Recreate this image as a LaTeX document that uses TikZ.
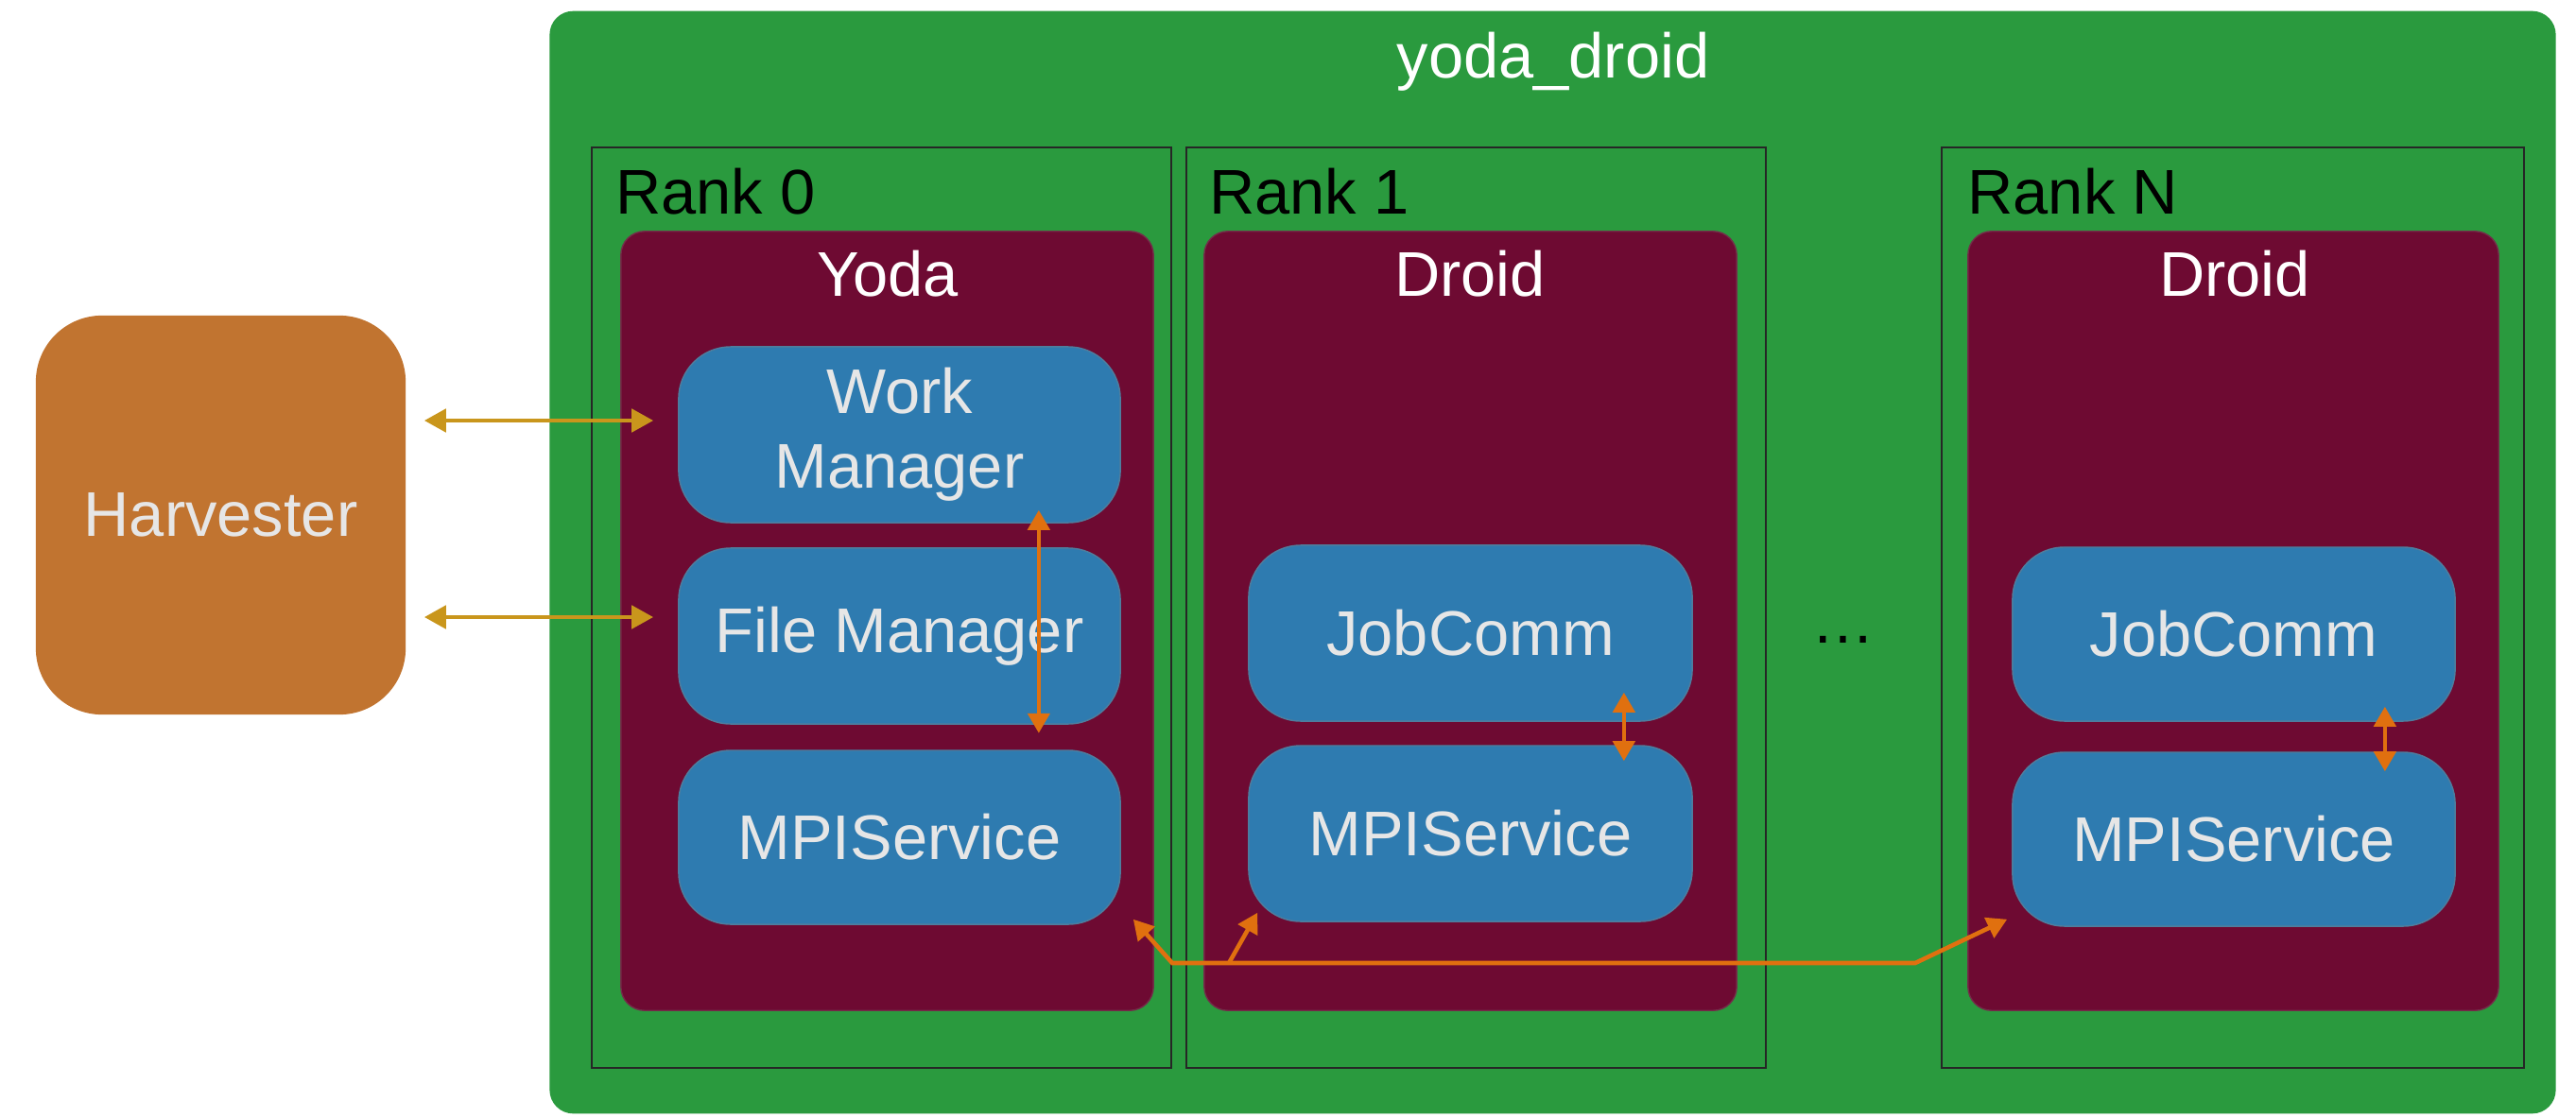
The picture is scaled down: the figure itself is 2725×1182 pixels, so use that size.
\documentclass[tikz,border=0pt]{standalone}
\usepackage{fontspec}
\setmainfont{Liberation Sans}
\usetikzlibrary{arrows.meta,calc}
\definecolor{cgreen}{HTML}{2A9A3E}
\definecolor{cmaroon}{HTML}{6E0A32}
\definecolor{cblue}{HTML}{2E7BB0}
\definecolor{corange}{HTML}{C17430}
\definecolor{cgold}{HTML}{C9961C}
\definecolor{carrow}{HTML}{E0700F}
\definecolor{ctext}{HTML}{E6E6E6}
\begin{document}
\begin{tikzpicture}[x=0.01cm,y=-0.01cm,
  lbl/.style={font=\fontsize{19pt}{22.5pt}\selectfont},
  outerbox/.style={fill=cgreen, rounded corners=0.25cm, inner sep=0pt},
  rankframe/.style={draw=black!85, line width=0.5pt, inner sep=0pt},
  procbox/.style={fill=cmaroon, draw=cmaroon!70!gray, line width=0.4pt, rounded corners=0.25cm, inner sep=0pt},
  svcbox/.style={fill=cblue, draw=cblue!60!gray, line width=0.4pt, rounded corners=0.55cm, inner sep=0pt, lbl, text=ctext, align=center},
  harvbox/.style={fill=corange, rounded corners=0.7cm, inner sep=0pt, lbl, text=ctext},
  goldarrow/.style={draw=cgold, line width=1.4pt, {Triangle[length=0.23cm,width=0.24cm]}-{Triangle[length=0.23cm,width=0.24cm]}},
  orgarrow/.style={draw=carrow, line width=1.3pt},
  biarrow/.style={{Triangle[length=0.21cm,width=0.23cm]}-{Triangle[length=0.21cm,width=0.23cm]}},
  onearrow/.style={-{Triangle[length=0.21cm,width=0.23cm]}}
]
\useasboundingbox (0,0) rectangle (2725,1182);

% outer container
\node[outerbox, minimum width=21.21cm, minimum height=11.66cm] (outer) at (1642.5,595) {};
\node[lbl, anchor=base, text=white] (title) at (1643,83) {yoda\_droid};

% harvester
\node[harvbox, minimum width=3.91cm, minimum height=4.22cm] (harv) at (233.5,545) {Harvester};

% rank frames
\node[rankframe, minimum width=6.13cm, minimum height=9.74cm] (rank0) at (932.5,643) {};
\node[rankframe, minimum width=6.13cm, minimum height=9.74cm] (rank1) at (1561.5,643) {};
\node[rankframe, minimum width=6.16cm, minimum height=9.74cm] (rankn) at (2362,643) {};
\node[lbl, anchor=base west] (r0lbl) at (639,226) {Rank 0};
\node[lbl, anchor=base west] (r1lbl) at (1267,226) {Rank 1};
\node[lbl, anchor=base west] (rnlbl) at (2069,226) {Rank N};

% process boxes
\node[procbox, minimum width=5.63cm, minimum height=8.24cm] (yoda) at (938.5,657) {};
\node[procbox, minimum width=5.63cm, minimum height=8.24cm] (droid1) at (1555.5,657) {};
\node[procbox, minimum width=5.61cm, minimum height=8.24cm] (droidn) at (2362.5,657) {};
\node[lbl, anchor=base, text=white] (yodalbl) at (939,313) {Yoda};
\node[lbl, anchor=base, text=white] (d1lbl) at (1555,313) {Droid};
\node[lbl, anchor=base, text=white] (dnlbl) at (2364,313) {Droid};

\node[lbl, anchor=base] (dots) at (1950,680) {…};

% service boxes
\node[svcbox, minimum width=4.67cm, minimum height=1.86cm] (wm) at (951.5,460) {Work\\Manager};
\node[svcbox, minimum width=4.67cm, minimum height=1.86cm] (fm) at (951.5,673) {File Manager};
\node[svcbox, minimum width=4.67cm, minimum height=1.84cm] (mpi0) at (951.5,886) {MPIService};
\node[svcbox, minimum width=4.69cm, minimum height=1.86cm] (jc1) at (1555.5,670) {JobComm};
\node[svcbox, minimum width=4.69cm, minimum height=1.86cm] (mpi1) at (1555.5,882) {MPIService};
\node[svcbox, minimum width=4.68cm, minimum height=1.84cm] (jcn) at (2363,671) {JobComm};
\node[svcbox, minimum width=4.68cm, minimum height=1.84cm] (mpin) at (2363,888) {MPIService};

% harvester links
\draw[goldarrow] ([shift={(19,-15)}]harv.east |- wm.west) -- ([shift={(-26,-15)}]wm.west);
\draw[goldarrow] ([shift={(19,-20)}]harv.east |- fm.west) -- ([shift={(-26,-20)}]fm.west);

% internal links
\draw[orgarrow, biarrow]
  ([shift={(-87,-14)}]wm.south east) -- ([shift={(-87,9)}]fm.south east);
\draw[orgarrow, biarrow]
  ([shift={(-73,-31)}]jc1.south east) -- ([shift={(-73,17)}]mpi1.north east);
\draw[orgarrow, biarrow]
  ([shift={(-75,-16)}]jcn.south east) -- ([shift={(-75,21)}]mpin.north east);

% MPI bus
\coordinate (busL) at (1240,1019);
\coordinate (busB) at (1300,1019);
\coordinate (busR) at (2026,1019);
\draw[orgarrow, biarrow]
  ([shift={(13,-6)}]mpi0.south east) -- (busL) -- (busR) -- ([shift={(-5,-8)}]mpin.south west);
\draw[orgarrow, onearrow]
  (busB) -- ([shift={(10,-10)}]mpi1.south west);
\end{tikzpicture}
\end{document}
